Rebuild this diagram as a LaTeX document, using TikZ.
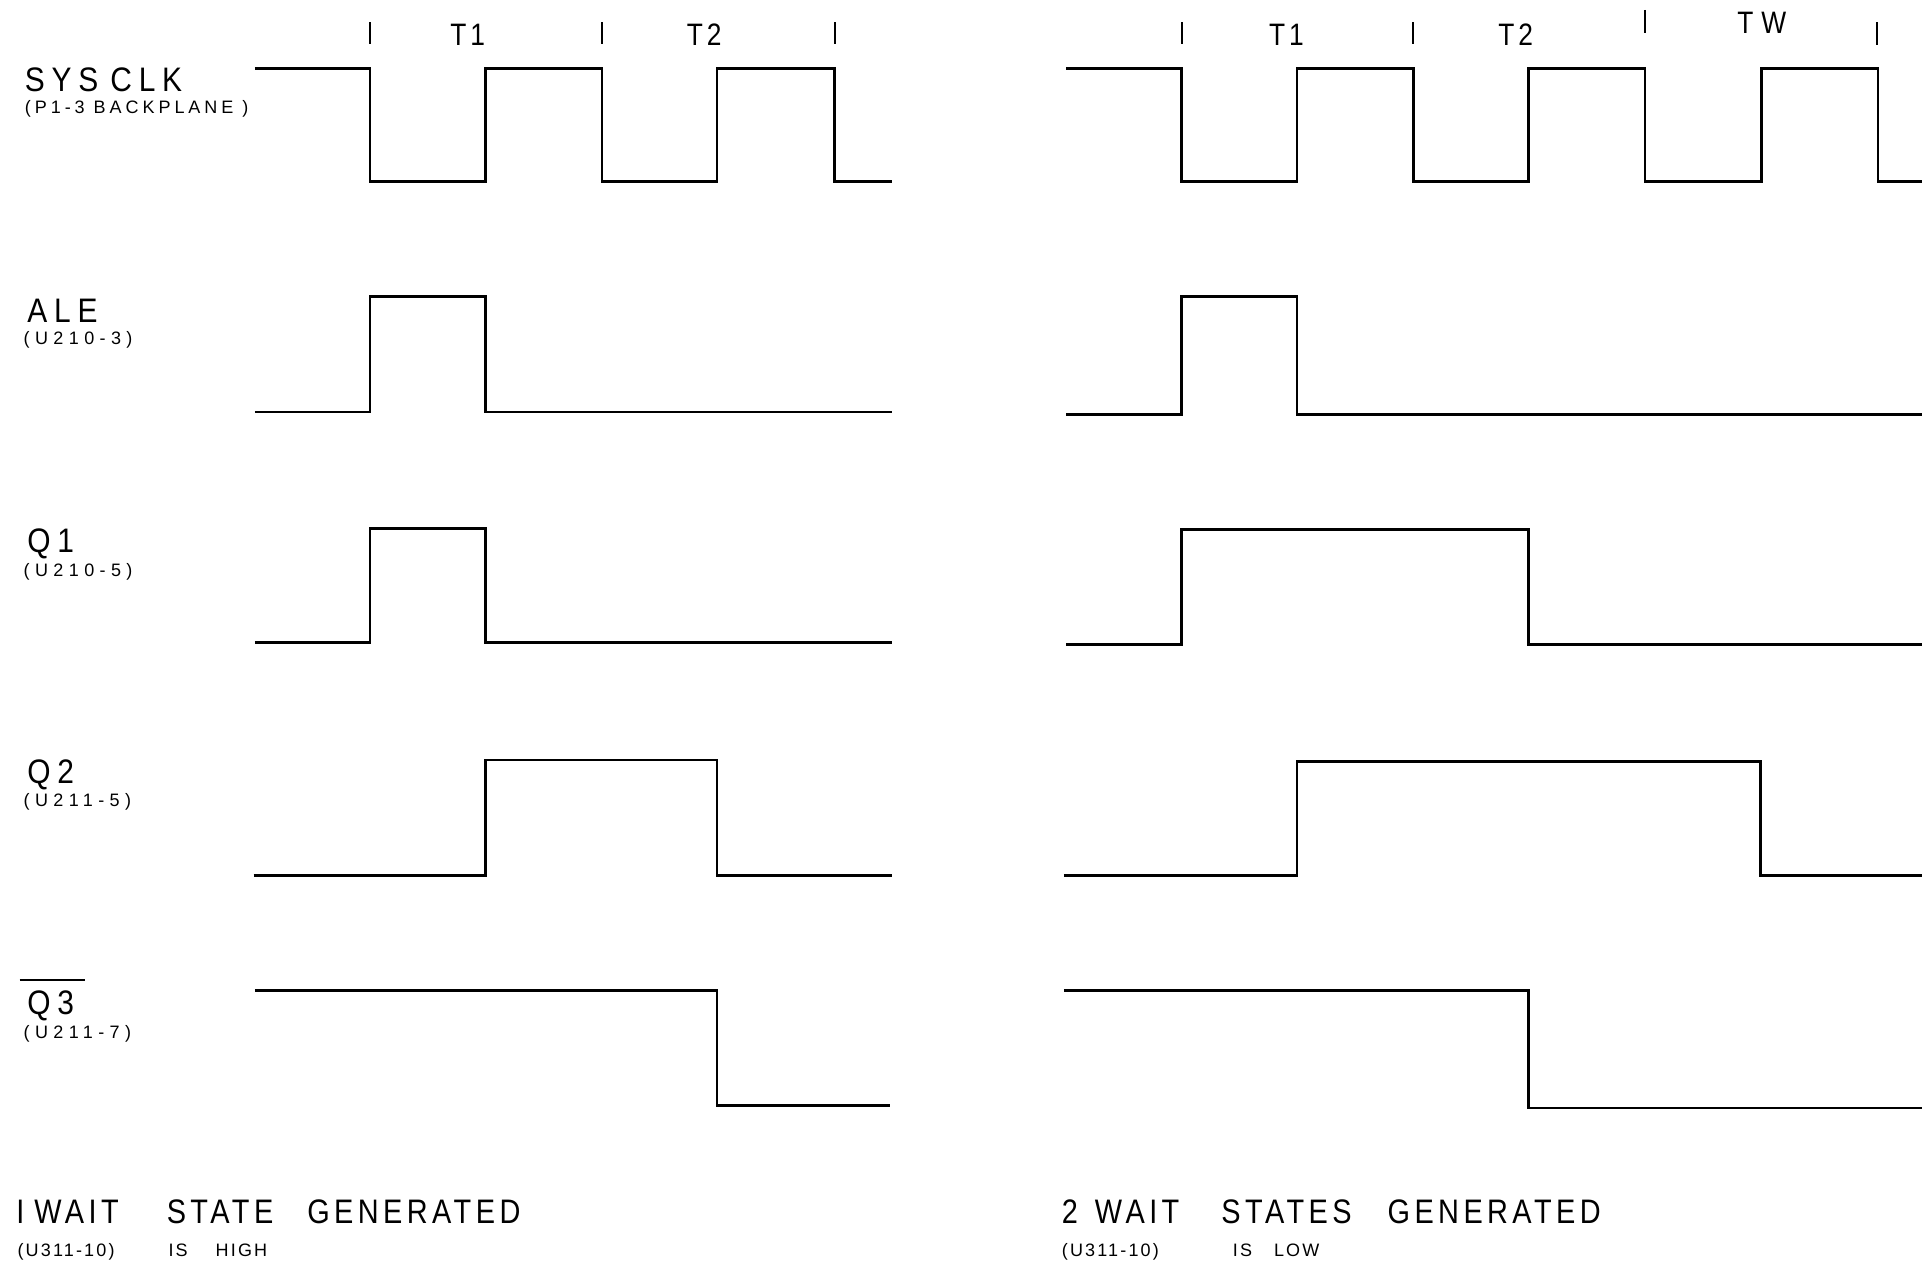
\documentclass[tikz,border=0pt]{standalone}
\usepackage{fontspec}
\setmainfont{Liberation Sans}
\newfontfamily\sigL[FakeStretch=0.88,LetterSpace=20]{Liberation Sans}
\newfontfamily\bigL[FakeStretch=0.85,LetterSpace=13]{Liberation Sans}
\newfontfamily\smallA[LetterSpace=30]{Liberation Sans}
\newfontfamily\smallB[LetterSpace=12]{Liberation Sans}
\newfontfamily\smallC[LetterSpace=22]{Liberation Sans}
\begin{document}
\begin{tikzpicture}[x=0.6129pt,y=-0.6129pt,
  wave/.style={line width=1.3pt, line join=miter},
  tickmark/.style={line width=1pt},
  siglab/.style={font=\sigL\fontsize{17}{17}\selectfont, inner sep=0pt, anchor=base west},
  biglab/.style={font=\bigL\fontsize{17}{17}\selectfont, inner sep=0pt, anchor=base west},
  smalllab/.style={font=\smallA\fontsize{9}{9}\selectfont, inner sep=0pt, anchor=base west},
  smalllabb/.style={font=\smallB\fontsize{9}{9}\selectfont, inner sep=0pt, anchor=base west},
  smalllabc/.style={font=\smallC\fontsize{9}{9}\selectfont, inner sep=0pt, anchor=base west},
  tlab/.style={font=\bigL\fontsize{15.5}{15.5}\selectfont, inner sep=0pt, anchor=base west}]
\useasboundingbox (0,0) rectangle (1568,1032);

% ---------- period markers ----------
\foreach \x in {302,491,681,964,1153} \draw[tickmark] (\x,18) -- (\x,36);
\draw[tickmark] (1342,8) -- (1342,27);
\draw[tickmark] (1531,18) -- (1531,37);
\node[tlab] (t1a) at (367,37) {T1};
\node[tlab] (t2a) at (560,37) {T2};
\node[tlab] (t1b) at (1035,37) {T1};
\node[tlab] (t2b) at (1222,37) {T2};
\node[tlab] (twb) at (1417,27) {T\hspace{4pt}W};

% ---------- signal labels ----------
\node[siglab] (sysclk) at (20,75) {SYS\hspace{6pt}CLK};
\node[smalllabc] (sysclks) at (20,93) {(P1-3 BACKPLANE )};
\node[siglab] (ale) at (22,263) {ALE};
\node[smalllab] (ales) at (19,281) {(U210-3)};
\node[siglab] (q1) at (22,451) {Q1};
\node[smalllab] (q1s) at (19,470) {(U210-5)};
\node[siglab] (q2) at (22,639) {Q2};
\node[smalllab] (q2s) at (19,658) {(U211-5)};
\node[siglab] (q3) at (22,828) {Q3};
\node[smalllab] (q3s) at (19,847) {(U211-7)};
\draw[line width=1pt] (16,799.5) -- (69,799.5);

% ---------- captions ----------
\node[biglab] (capa) at (13,998) {I\hspace{5pt}WAIT\hspace{24pt}STATE\hspace{17pt}GENERATED};
\node[smalllabb] (capas) at (14,1025) {(U311-10)\hspace{27pt}IS\hspace{14pt}HIGH};
\node[biglab] (capb) at (866,998) {2\hspace{8.5pt}WAIT\hspace{21pt}STATES\hspace{18pt}GENERATED};
\node[smalllabb] (capbs) at (866,1025) {(U311-10)\hspace{37pt}IS\hspace{11pt}LOW};

% ---------- left panel: 1 wait state ----------
\draw[wave] (208,56) -- (302,56) -- (302,148) -- (396,148) -- (396,56) -- (491,56) -- (491,148)
  -- (585,148) -- (585,56) -- (681,56) -- (681,148) -- (728,148);
\draw[wave] (208,336) -- (302,336) -- (302,242) -- (396,242) -- (396,336) -- (728,336);
\draw[wave] (208,524) -- (302,524) -- (302,431) -- (396,431) -- (396,524) -- (728,524);
\draw[wave] (207,714) -- (396,714) -- (396,620) -- (585,620) -- (585,714) -- (728,714);
\draw[wave] (208,808) -- (585,808) -- (585,902) -- (726,902);

% ---------- right panel: 2 wait states ----------
\draw[wave] (870,56) -- (964,56) -- (964,148) -- (1058,148) -- (1058,56) -- (1153,56) -- (1153,148)
  -- (1247,148) -- (1247,56) -- (1342,56) -- (1342,148) -- (1437,148) -- (1437,56) -- (1532,56)
  -- (1532,148) -- (1568,148);
\draw[wave] (870,338) -- (964,338) -- (964,242) -- (1058,242) -- (1058,338) -- (1568,338);
\draw[wave] (870,526) -- (964,526) -- (964,432) -- (1247,432) -- (1247,526) -- (1568,526);
\draw[wave] (868,714) -- (1058,714) -- (1058,621) -- (1436,621) -- (1436,714) -- (1568,714);
\draw[wave] (868,808) -- (1247,808) -- (1247,904) -- (1568,904);
\end{tikzpicture}
\end{document}
